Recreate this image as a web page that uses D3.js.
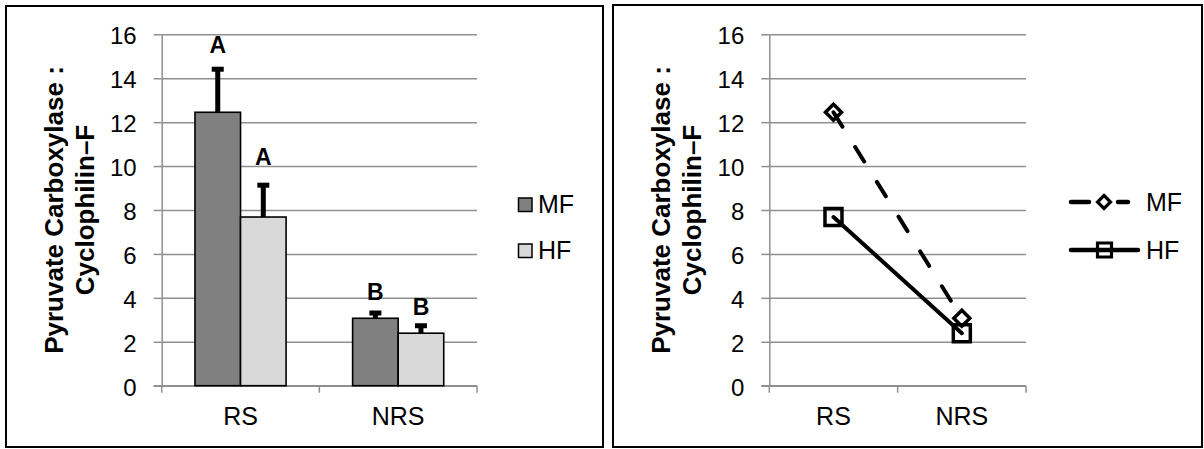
<!DOCTYPE html>
<html>
<head>
<meta charset="utf-8">
<script src="https://cdn.jsdelivr.net/npm/d3@7"></script>
<style>
  html, body { margin: 0; padding: 0; background: #fff; }
  svg text { font-family: "Liberation Sans", Arial, sans-serif; fill: #000; }
</style>
</head>
<body>
<svg id="chart" width="1204" height="449"></svg>
<script>
// ---- data ----
const categories = ["RS", "NRS"];
const seriesNames = ["MF", "HF"];
const mfMeans = [12.45, 3.07];
const hfMeans = [7.68, 2.39];
const mfErrors = [1.96, 0.24];
const hfErrors = [1.45, 0.34];
const mfLetters = ["A", "B"];
const hfLetters = ["A", "B"];
const yTicks = [0, 2, 4, 6, 8, 10, 12, 14, 16];
const yTitleLines = ["Pyruvate Carboxylase :", "Cyclophilin\u2013F"];

// ---- styling ----
const GRID = "#8f8f8f";
const MF_FILL = "#808080";
const HF_FILL = "#d9d9d9";
const plotTop = 34.3, plotBottom = 385.7;

const svg = d3.select("#chart");
const y = d3.scaleLinear().domain([0, 16]).range([plotBottom, plotTop]);

const series = [
  { name: seriesNames[0], means: mfMeans, errors: mfErrors, letters: mfLetters, fill: MF_FILL },
  { name: seriesNames[1], means: hfMeans, errors: hfErrors, letters: hfLetters, fill: HF_FILL }
];

// outer frame + value axis, gridlines and rotated title shared by both panels
function panel(box, x0, x1) {
  const g = svg.append("g");
  g.append("rect")
    .attr("x", box.x).attr("y", box.y).attr("width", box.w).attr("height", box.h)
    .attr("fill", "#fff").attr("stroke", "#000").attr("stroke-width", 2);

  // horizontal gridlines
  const grid = g.append("g").attr("transform", `translate(${x0},0)`)
    .call(d3.axisLeft(y).tickValues(yTicks).tickSize(-(x1 - x0)).tickFormat(""));
  grid.select(".domain").remove();
  grid.selectAll(".tick line").attr("stroke", GRID).attr("stroke-width", 1.5);

  // value axis with outward ticks and labels
  const ax = g.append("g").attr("transform", `translate(${x0},0)`)
    .call(d3.axisLeft(y).tickValues(yTicks).tickSize(8).tickSizeOuter(0).tickPadding(17));
  ax.select(".domain").attr("stroke", GRID).attr("stroke-width", 1.5);
  ax.selectAll(".tick line").attr("stroke", GRID).attr("stroke-width", 1.5);
  ax.selectAll(".tick text")
    .attr("font-size", 24).attr("dy", "0.4em")
    .style("font-family", "'Liberation Sans', Arial, sans-serif").attr("fill", "#000");

  // category axis baseline
  g.append("line")
    .attr("x1", x0 - 8).attr("x2", x1).attr("y1", y(0)).attr("y2", y(0))
    .attr("stroke", GRID).attr("stroke-width", 1.5);

  // rotated two-line title
  const cy = (plotTop + plotBottom) / 2;
  const baselines = [box.x + 57, box.x + 88];
  yTitleLines.forEach((t, i) => {
    g.append("text")
      .attr("transform", `translate(${baselines[i]},${cy}) rotate(-90)`)
      .attr("text-anchor", "middle")
      .attr("font-size", 26).attr("font-weight", "bold")
      .text(t);
  });
  return g;
}

// ---------- left panel: grouped bars ----------
{
  const x0 = 161.7, x1 = 477;
  const g = panel({ x: 6, y: 6, w: 597, h: 441 }, x0, x1);
  const xBand = d3.scaleBand().domain(categories).range([x0, x1]).paddingInner(0).paddingOuter(0);
  const bw = xBand.bandwidth();
  const xSeries = d3.scaleBand().domain(seriesNames).range([bw * 0.211, bw * 0.789]).padding(0);

  // tick marks at category boundaries
  const bounds = categories.map(c => xBand(c)).concat([x1]);
  g.append("g").selectAll("line").data(bounds).join("line")
    .attr("x1", d => d).attr("x2", d => d).attr("y1", y(0)).attr("y2", y(0) + 7)
    .attr("stroke", GRID).attr("stroke-width", 1.5);

  // category labels
  g.append("g").selectAll("text").data(categories).join("text")
    .attr("x", d => xBand(d) + bw / 2).attr("y", 425)
    .attr("text-anchor", "middle").attr("font-size", 25).text(d => d);

  const letterGaps = [[14, 11], [18, 8]];
  series.forEach((s, si) => {
    const sg = g.append("g");
    const data = categories.map((c, i) => ({ c, v: s.means[i], e: s.errors[i], l: s.letters[i], gap: letterGaps[si][i] }));
    const bx = d => xBand(d.c) + xSeries(s.name);
    const bwid = xSeries.bandwidth();

    sg.selectAll("rect").data(data).join("rect")
      .attr("x", bx).attr("width", bwid)
      .attr("y", d => y(d.v)).attr("height", d => y(0) - y(d.v))
      .attr("fill", s.fill).attr("stroke", "#000").attr("stroke-width", 1.6);

    // upper error bar: stem + cap
    sg.selectAll("line.stem").data(data).join("line").attr("class", "stem")
      .attr("x1", d => bx(d) + bwid / 2).attr("x2", d => bx(d) + bwid / 2)
      .attr("y1", d => y(d.v)).attr("y2", d => y(d.v + d.e))
      .attr("stroke", "#000").attr("stroke-width", 5);
    sg.selectAll("line.cap").data(data).join("line").attr("class", "cap")
      .attr("x1", d => bx(d) + bwid / 2 - 6).attr("x2", d => bx(d) + bwid / 2 + 6)
      .attr("y1", d => y(d.v + d.e)).attr("y2", d => y(d.v + d.e))
      .attr("stroke", "#000").attr("stroke-width", 5);

    // significance letters
    sg.selectAll("text").data(data).join("text")
      .attr("x", d => bx(d) + bwid / 2)
      .attr("y", d => y(d.v + d.e) - 2.5 - d.gap)
      .attr("text-anchor", "middle").attr("font-size", 23).attr("font-weight", "bold")
      .text(d => d.l);
  });

  // legend
  const lg = g.append("g");
  const legendY = [198, 244];
  series.forEach((s, i) => {
    lg.append("rect").attr("x", 518.5).attr("y", legendY[i]).attr("width", 13.5).attr("height", 13.5)
      .attr("fill", s.fill).attr("stroke", "#000").attr("stroke-width", 1.5);
    lg.append("text").attr("x", 538).attr("y", legendY[i] + 15)
      .attr("font-size", 25).text(s.name);
  });
}

// ---------- right panel: lines with markers ----------
{
  const x0 = 769.3, x1 = 1026;
  const g = panel({ x: 613, y: 5, w: 589, h: 442 }, x0, x1);
  const xPoint = d3.scalePoint().domain(categories).range([x0, x1]).padding(0.5);
  const step = xPoint.step();

  const bounds = [x0, x0 + step, x1];
  g.append("g").selectAll("line").data(bounds).join("line")
    .attr("x1", d => d).attr("x2", d => d).attr("y1", y(0)).attr("y2", y(0) + 7)
    .attr("stroke", GRID).attr("stroke-width", 1.5);

  g.append("g").selectAll("text").data(categories).join("text")
    .attr("x", d => xPoint(d)).attr("y", 425)
    .attr("text-anchor", "middle").attr("font-size", 25).text(d => d);

  const diamond = r => `M0,${-r}L${r},0L0,${r}L${-r},0Z`;
  const square = s => `M${-s},${-s}H${s}V${s}H${-s}Z`;
  const styles = [
    { dash: "17 24", marker: diamond(8) },
    { dash: null, marker: square(8.5) }
  ];

  const line = d3.line().x(d => xPoint(d.c)).y(d => y(d.v));
  series.forEach((s, si) => {
    const data = categories.map((c, i) => ({ c, v: s.means[i] }));
    g.append("path").datum(data).attr("d", line)
      .attr("fill", "none").attr("stroke", "#000").attr("stroke-width", 4)
      .attr("stroke-linecap", "round")
      .attr("stroke-dasharray", styles[si].dash);
    g.append("g").selectAll("path").data(data).join("path")
      .attr("transform", d => `translate(${xPoint(d.c)},${y(d.v)})`)
      .attr("d", styles[si].marker)
      .attr("fill", "none").attr("stroke", "#000").attr("stroke-width", 3.5)
      .attr("stroke-linejoin", "miter");
  });

  // legend
  const lg = g.append("g");
  const legendY = [202, 250];
  // MF: dashed sample, diamond
  lg.append("line").attr("x1", 1071).attr("x2", 1089).attr("y1", legendY[0]).attr("y2", legendY[0])
    .attr("stroke", "#000").attr("stroke-width", 4.5).attr("stroke-linecap", "round");
  lg.append("line").attr("x1", 1118).attr("x2", 1128).attr("y1", legendY[0]).attr("y2", legendY[0])
    .attr("stroke", "#000").attr("stroke-width", 4.5).attr("stroke-linecap", "round");
  lg.append("path").attr("transform", `translate(1104,${legendY[0]})`).attr("d", diamond(6.5))
    .attr("fill", "none").attr("stroke", "#000").attr("stroke-width", 3.2);
  // HF: solid sample, square
  lg.append("line").attr("x1", 1071).attr("x2", 1138).attr("y1", legendY[1]).attr("y2", legendY[1])
    .attr("stroke", "#000").attr("stroke-width", 4.5).attr("stroke-linecap", "round");
  lg.append("path").attr("transform", `translate(1104.5,${legendY[1]})`).attr("d", square(7))
    .attr("fill", "none").attr("stroke", "#000").attr("stroke-width", 3.2);

  series.forEach((s, i) => {
    lg.append("text").attr("x", 1146).attr("y", legendY[i] + 9)
      .attr("font-size", 25).text(s.name);
  });
}
</script>
</body>
</html>
